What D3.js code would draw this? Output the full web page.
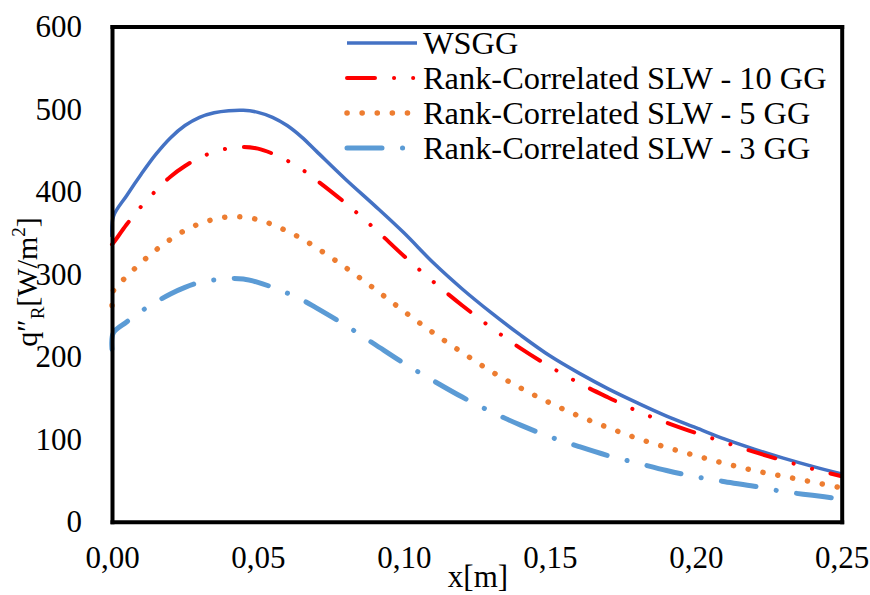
<!DOCTYPE html>
<html>
<head>
<meta charset="utf-8">
<script src="https://cdn.jsdelivr.net/npm/d3@7"></script>
<style>
  body { margin: 0; background: #fff; }
  svg { display: block; }
  svg text { font-family: "Times New Roman", "Liberation Serif", serif; fill: #000; }
</style>
</head>
<body>
<div id="chart"></div>
<script>
const width = 870, height = 595;
const plotLeft = 112, plotRight = 841.7, plotTop = 26.5, plotBottom = 521.7;

// x positions [m]
const xs = [0, 0.0005, 0.005, 0.01, 0.015, 0.02, 0.025, 0.03, 0.035, 0.04, 0.045, 0.05, 0.055, 0.06, 0.065, 0.07,
  0.08, 0.09, 0.10, 0.11, 0.12, 0.13, 0.14, 0.15, 0.16, 0.17, 0.18, 0.19, 0.20, 0.21, 0.22, 0.23, 0.24, 0.25];

const wsgg = [345, 370, 395, 421, 445, 465, 480, 490, 495.5, 498, 498.5, 496, 490, 480, 466, 449,
  415, 383, 350, 314, 282, 253, 226, 201, 180, 161, 144, 128, 114, 100, 88, 77, 67, 58];
const slw10 = [336, 338, 360, 382, 401, 418, 431, 441, 448, 452.5, 454, 452, 446, 437.5, 427, 414,
  386, 355, 322, 291, 262, 235, 210, 188, 168, 150.5, 134, 120, 107.5, 96, 84.5, 74, 64, 55];
const slw5 = [262, 280, 297, 314, 329, 342, 353, 361, 366.5, 369.5, 369, 366, 360, 352, 343, 332,
  308, 282, 255, 229, 205, 182, 162, 144, 128, 114, 101, 90, 80, 70.5, 62, 55, 48, 41];
const slw3 = [209, 229, 242, 255, 266, 276, 284, 290, 293, 294.5, 294, 290, 284, 277, 269, 259,
  238, 215, 192, 171, 151, 133, 117, 103, 91, 80, 71, 62, 54.5, 48.5, 43, 36.5, 32, 27.5];

const seriesNames = ["WSGG", "Rank-Correlated SLW - 10 GG", "Rank-Correlated SLW - 5 GG", "Rank-Correlated SLW - 3 GG"];
const xTicks = [0, 0.05, 0.10, 0.15, 0.20, 0.25];
const yTicks = [0, 100, 200, 300, 400, 500, 600];

const styles = [
  { color: "#4472C4", w: 3.5, dash: null },
  { color: "#FF0000", w: 4, dash: "28,19,0.1,19,0.1,19" },
  { color: "#ED7D31", w: 5.5, dash: "0.1,15" },
  { color: "#5B9BD5", w: 5, dash: "35,20.5,0.1,20.5" }
];

const series = [wsgg, slw10, slw5, slw3].map((vals, i) => ({
  name: seriesNames[i],
  values: xs.map((x, j) => ({ x: x, y: vals[j] }))
}));

const svg = d3.select("#chart").append("svg")
  .attr("width", width)
  .attr("height", height);

const x = d3.scaleLinear().domain([0, 0.25]).range([plotLeft, plotRight]);
const y = d3.scaleLinear().domain([0, 600]).range([plotBottom, plotTop]);

const fmt = d => d3.format(".2f")(d).replace(".", ",");

// lines
const line = d3.line()
  .x(d => x(d.x))
  .y(d => y(d.y))
  .curve(d3.curveCatmullRom.alpha(0.5));

svg.append("g").selectAll("path")
  .data(series)
  .enter()
  .append("path")
  .attr("d", d => line(d.values))
  .attr("fill", "none")
  .attr("stroke", (d, i) => styles[i].color)
  .attr("stroke-width", (d, i) => styles[i].w)
  .attr("stroke-dasharray", (d, i) => styles[i].dash)
  .attr("stroke-linecap", (d, i) => styles[i].dash ? "round" : "butt")
  .attr("stroke-linejoin", "round");

// frame (axes on all four sides)
const xAxis = svg.append("g")
  .attr("transform", "translate(0," + plotBottom + ")")
  .call(d3.axisBottom(x).tickValues(xTicks).tickFormat(fmt).tickSize(0));
xAxis.selectAll("text")
  .attr("y", 46)
  .attr("dy", 0);

const yAxis = svg.append("g")
  .attr("transform", "translate(" + plotLeft + ",0)")
  .call(d3.axisLeft(y).tickValues(yTicks).tickSize(0));
yAxis.selectAll("text")
  .attr("x", -30)
  .attr("dy", 10);

svg.append("g")
  .attr("transform", "translate(0," + plotTop + ")")
  .call(d3.axisTop(x).tickValues([]).tickSize(0));
svg.append("g")
  .attr("transform", "translate(" + plotRight + ",0)")
  .call(d3.axisRight(y).tickValues([]).tickSize(0));

svg.selectAll(".domain")
  .attr("stroke", "#000")
  .attr("stroke-width", 4)
  .attr("stroke-linecap", "square");
svg.selectAll(".tick text")
  .style("font-size", "31px");

// axis titles
svg.append("text")
  .attr("x", 478)
  .attr("y", 587)
  .attr("text-anchor", "middle")
  .style("font-size", "31px")
  .text("x[m]");

const yTitle = svg.append("text")
  .attr("transform", "translate(36.5,282) rotate(-90)")
  .attr("text-anchor", "middle")
  .style("font-size", "30px");
yTitle.append("tspan").text("q\u2033");
yTitle.append("tspan").attr("dy", 7).style("font-size", "19px").text("R");
yTitle.append("tspan").attr("dy", -7).text("[W/m");
yTitle.append("tspan").attr("dy", -12).style("font-size", "19px").text("2");
yTitle.append("tspan").attr("dy", 12).text("]");

// legend
const legend = svg.append("g").selectAll("g")
  .data(series)
  .enter()
  .append("g")
  .attr("transform", (d, i) => "translate(347," + (43 + i * 35) + ")");

legend.append("line")
  .attr("x1", 0)
  .attr("x2", (d, i) => i === 2 ? 60.5 : 70)
  .attr("stroke", (d, i) => styles[i].color)
  .attr("stroke-width", (d, i) => styles[i].w)
  .attr("stroke-dasharray", (d, i) => styles[i].dash)
  .attr("stroke-linecap", (d, i) => styles[i].dash ? "round" : "butt");

legend.append("text")
  .attr("x", 76)
  .attr("y", 10.5)
  .style("font-size", "32.4px")
  .text(d => d.name);
</script>
</body>
</html>
